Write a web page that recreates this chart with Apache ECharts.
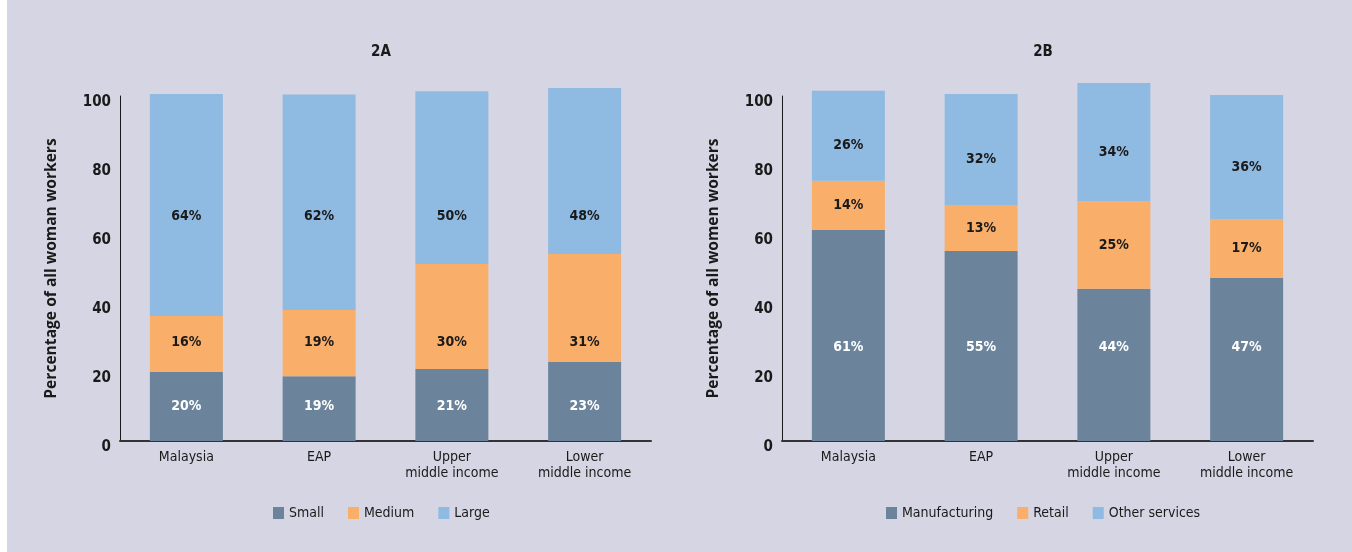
<!DOCTYPE html>
<html><head><meta charset="utf-8">
<script src="https://cdn.jsdelivr.net/npm/echarts@6/dist/echarts.min.js"></script>
<style>html,body{margin:0;padding:0;background:#fff;}#chart{position:absolute;left:7px;top:0;width:1345px;height:552px;}</style>
</head><body><div id="chart"></div>
<script>
const categories = ['Malaysia', 'EAP', 'Upper\nmiddle income', 'Lower\nmiddle income'];
// 2A: firm size
const sizeSmall  = [20.0, 18.8, 20.9, 22.9];
const sizeMedium = [16.2, 19.2, 30.4, 31.3];
const sizeLarge  = [64.4, 62.4, 50.1, 48.1];
// 2B: sector
const sectorManufacturing = [61.2, 55.1, 44.1, 47.3];
const sectorRetail        = [14.2, 13.3, 25.3, 17.0];
const sectorOther         = [26.1, 32.2, 34.4, 36.0];
const yTickMin = 0, yTickMax = 100, yTickStep = 20;

const chart = echarts.init(document.getElementById('chart'));
const NUM = '"DejaVu Sans Condensed", "Liberation Sans Narrow", sans-serif';
const INK = '#1a1a1a';
const C_DARK = '#6b849c', C_MED = '#f9af69', C_LIGHT = '#8fbae1';
// label rows (value units) used by the source chart for some segments
const SMALL_LABEL_Y = 10.1, MEDIUM_LABEL_Y = 28.5, LARGE_LABEL_Y = 65.2, MANUF_LABEL_Y = 27.2;

function yAxis(gridIndex, name) {
  return {
    type: 'value', gridIndex, min: yTickMin, max: yTickMax, interval: yTickStep,
    name, nameLocation: 'middle', nameGap: 60,
    nameTextStyle: { fontFamily: '"Open Sans"', fontWeight: 'bold', fontSize: 15.6, color: INK },
    axisLine: { show: true, lineStyle: { color: INK, width: 1 } },
    axisTick: { show: false }, splitLine: { show: false },
    axisLabel: { margin: 9, verticalAlign: 'top', lineHeight: 12, fontFamily: NUM, fontSize: 15, fontWeight: 'bold', color: INK }
  };
}
function xAxis(gridIndex) {
  return {
    type: 'category', gridIndex, data: categories,
    axisLine: { show: true, lineStyle: { color: '#333', width: 2 } },
    axisTick: { show: false },
    axisLabel: { margin: 8, interval: 0, fontFamily: NUM, fontSize: 14, lineHeight: 16, color: INK }
  };
}
const pct = v => Math.round(v) + '%';
function bar(name, data, idx, color, labelColor, labelShow, offset) {
  return {
    name, type: 'bar', stack: 'g' + idx, xAxisIndex: idx, yAxisIndex: idx,
    data, barWidth: 73, clip: false, itemStyle: { color },
    label: { show: labelShow, position: 'inside', offset: offset || [0, 0],
      formatter: p => pct(p.value), fontFamily: NUM, fontSize: 14, fontWeight: 'bold', color: labelColor }
  };
}
function labelSeries(values, idx, yVal, color) {
  return {
    type: 'scatter', xAxisIndex: idx, yAxisIndex: idx, silent: true, symbolSize: 1,
    itemStyle: { color: 'transparent', opacity: 1 }, z: 10,
    data: values.map((v, i) => [i, yVal]),
    label: { show: true, position: 'inside', opacity: 1, formatter: p => pct(values[p.dataIndex]),
      fontFamily: NUM, fontSize: 14, fontWeight: 'bold', color }
  };
}
const legendBase = { icon: 'rect', padding: 0, itemWidth: 11, itemHeight: 12, itemGap: 24, top: 506,
  textStyle: { fontFamily: NUM, fontSize: 14, color: INK } };

chart.setOption({
  backgroundColor: '#d6d5e3',
  animation: false,
  title: [
    { text: '2A', left: 374, top: 45, padding: 0, textAlign: 'center', textStyle: { fontFamily: NUM, fontWeight: 'bold', fontSize: 15, color: INK } },
    { text: '2B', left: 1036, top: 45, padding: 0, textAlign: 'center', textStyle: { fontFamily: NUM, fontWeight: 'bold', fontSize: 15, color: INK } }
  ],
  legend: [
    Object.assign({}, legendBase, { left: 266, data: ['Small', 'Medium', 'Large'] }),
    Object.assign({}, legendBase, { left: 879, data: ['Manufacturing', 'Retail', 'Other services'] })
  ],
  grid: [
    { left: 113, width: 531, top: 96, height: 345 },
    { left: 775, width: 531, top: 96, height: 345 }
  ],
  xAxis: [xAxis(0), xAxis(1)],
  yAxis: [yAxis(0, 'Percentage of all woman workers'), yAxis(1, 'Percentage of all women workers')],
  series: [
    bar('Small', sizeSmall, 0, C_DARK, '#ffffff', false),
    bar('Medium', sizeMedium, 0, C_MED, INK, false),
    bar('Large', sizeLarge, 0, C_LIGHT, INK, false),
    labelSeries(sizeSmall, 0, SMALL_LABEL_Y, '#ffffff'),
    labelSeries(sizeMedium, 0, MEDIUM_LABEL_Y, INK),
    labelSeries(sizeLarge, 0, LARGE_LABEL_Y, INK),
    bar('Manufacturing', sectorManufacturing, 1, C_DARK, '#ffffff', false),
    bar('Retail', sectorRetail, 1, C_MED, INK, true),
    bar('Other services', sectorOther, 1, C_LIGHT, INK, true, [0, 10]),
    labelSeries(sectorManufacturing, 1, MANUF_LABEL_Y, '#ffffff')
  ]
});
</script></body></html>
